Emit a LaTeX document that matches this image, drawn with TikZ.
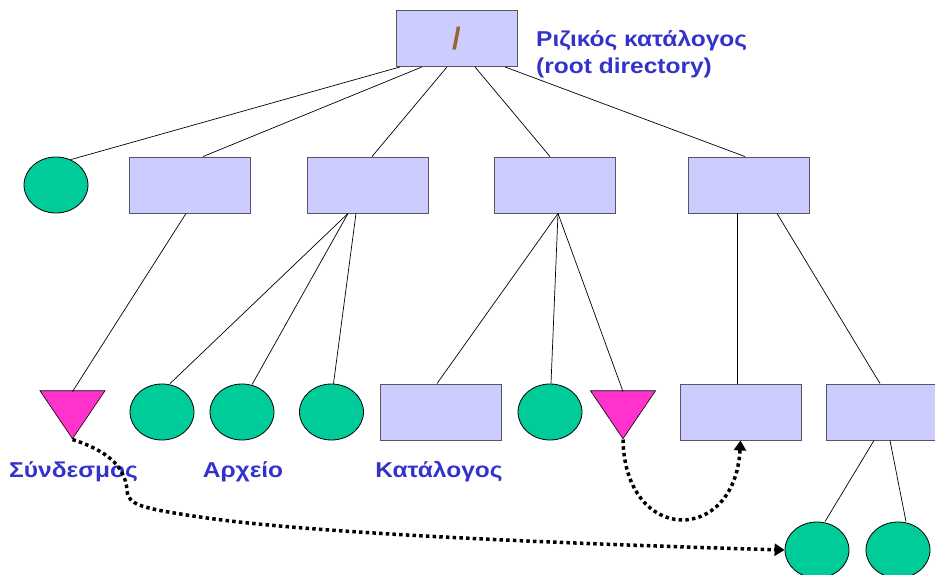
\documentclass[tikz,border=0pt]{standalone}
\usepackage{fontspec}
\setmainfont{Liberation Sans}
\newfontfamily\lblfont[FakeStretch=1.14]{Liberation Sans}
\usetikzlibrary{shapes.geometric,arrows.meta}
\definecolor{dirfill}{HTML}{CCCCFF}
\definecolor{dirdraw}{HTML}{555566}
\definecolor{filefill}{HTML}{00CC99}
\definecolor{linkfill}{HTML}{FF33CC}
\definecolor{lbl}{HTML}{3333CC}
\definecolor{slash}{HTML}{996633}
\tikzset{
  dirbox/.style={rectangle, draw=dirdraw, fill=dirfill, line width=0.9pt,
    minimum width=121pt, minimum height=56pt, inner sep=0pt},
  filenode/.style={ellipse, draw=black, fill=filefill, line width=0.8pt,
    minimum width=64pt, minimum height=56pt, inner sep=0pt},
  linknode/.style={isosceles triangle, isosceles triangle stretches,
    shape border rotate=-90, draw=black, fill=linkfill, line width=0.6pt,
    minimum width=65pt, minimum height=48pt, inner sep=0pt},
  edge/.style={draw=black, line width=0.7pt},
  linkref/.style={draw=black, line width=3.5pt, dash pattern=on 3.5pt off 3.2pt,
    -{Triangle[length=10pt,width=12pt]}},
  caption/.style={text=lbl, font=\lblfont\bfseries\fontsize{21.5}{26.6}\selectfont,
    inner sep=0pt}
}
\begin{document}
\begin{tikzpicture}[x=1pt,y=-1pt]
\useasboundingbox (0,0) rectangle (935,575);

% root directory
\node[dirbox] (root) at (456.5,38.5)
  {\raisebox{-6pt}{\textcolor{slash}{\fontsize{31}{31}\selectfont\bfseries /}}};
\node[caption, anchor=base west, align=left] (rootlbl) at (536,73.3)
  {Ριζικός κατάλογος\\(root directory)};

% second level
\node[filenode] (e0) at (56,185) {};
\node[dirbox] (b1) at (189.5,185) {};
\node[dirbox] (b2) at (367.5,185) {};
\node[dirbox] (b3) at (554.5,185) {};
\node[dirbox] (b4) at (748.5,185) {};

% third level
\node[linknode] (t1) at (72.5,408) {};
\node[filenode] (e1) at (162,412) {};
\node[filenode] (e2) at (242,412) {};
\node[filenode] (e3) at (331.5,412) {};
\node[dirbox] (b5) at (440.5,412) {};
\node[filenode] (e4) at (550,412) {};
\node[linknode] (t2) at (623,408) {};
\node[dirbox] (b6) at (740.5,412) {};
\node[dirbox] (b7) at (886.5,412) {};

% fourth level
\node[filenode] (e5) at (817,550) {};
\node[filenode] (e6) at (898,550) {};

% captions
\node[caption, anchor=base] (lblink) at (73.5,477) {Σύνδεσμος};
\node[caption, anchor=base] (lbfile) at (243,477) {Αρχείο};
\node[caption, anchor=base] (lbdir) at (439,477) {Κατάλογος};

% tree edges
\draw[edge] ([xshift=-56.5pt]root.south) -- (e0.60);
\draw[edge] ([xshift=-34.5pt]root.south) -- ([xshift=13.5pt]b1.north);
\draw[edge] ([xshift=-9.5pt]root.south) -- ([xshift=4.5pt]b2.north);
\draw[edge] ([xshift=18.5pt]root.south) -- ([xshift=-4.5pt]b3.north);
\draw[edge] ([xshift=48.5pt]root.south) -- ([xshift=-3.5pt]b4.north);

\draw[edge] ([xshift=-3.5pt]b1.south) -- ([yshift=48pt]t1.apex);
\draw[edge] ([xshift=-19.5pt]b2.south) -- ([xshift=8pt]e1.north);
\draw[edge] ([xshift=-19.5pt]b2.south) -- ([xshift=10pt,yshift=-1pt]e2.north);
\draw[edge] ([xshift=-11.5pt]b2.south) -- ([xshift=2pt]e3.north);
\draw[edge] ([xshift=3.5pt]b3.south) -- ([xshift=-3.5pt]b5.north);
\draw[edge] ([xshift=3.5pt]b3.south) -- ([xshift=1pt]e4.north);
\draw[edge] ([xshift=3.5pt]b3.south) -- ([yshift=48pt]t2.apex);
\draw[edge] ([xshift=-11.5pt]b4.south) -- ([xshift=-3.5pt]b6.north);
\draw[edge] ([xshift=28.5pt]b4.south) -- ([xshift=-6.5pt]b7.north);
\draw[edge] ([xshift=-12.5pt]b7.south) -- ([xshift=8pt]e5.north);
\draw[edge] ([xshift=3.5pt]b7.south) -- ([xshift=8pt]e6.north);

% symbolic link references
\draw[linkref] (t1.apex) .. controls (105,450) and (125,465) .. (127,490)
  .. controls (128,505) and (140,508) .. (200,517)
  .. controls (260,526) and (400,539) .. (e5.west);
\draw[linkref] (t2.apex) .. controls (625,545) and (735,545) .. (b6.south);
\end{tikzpicture}
\end{document}
